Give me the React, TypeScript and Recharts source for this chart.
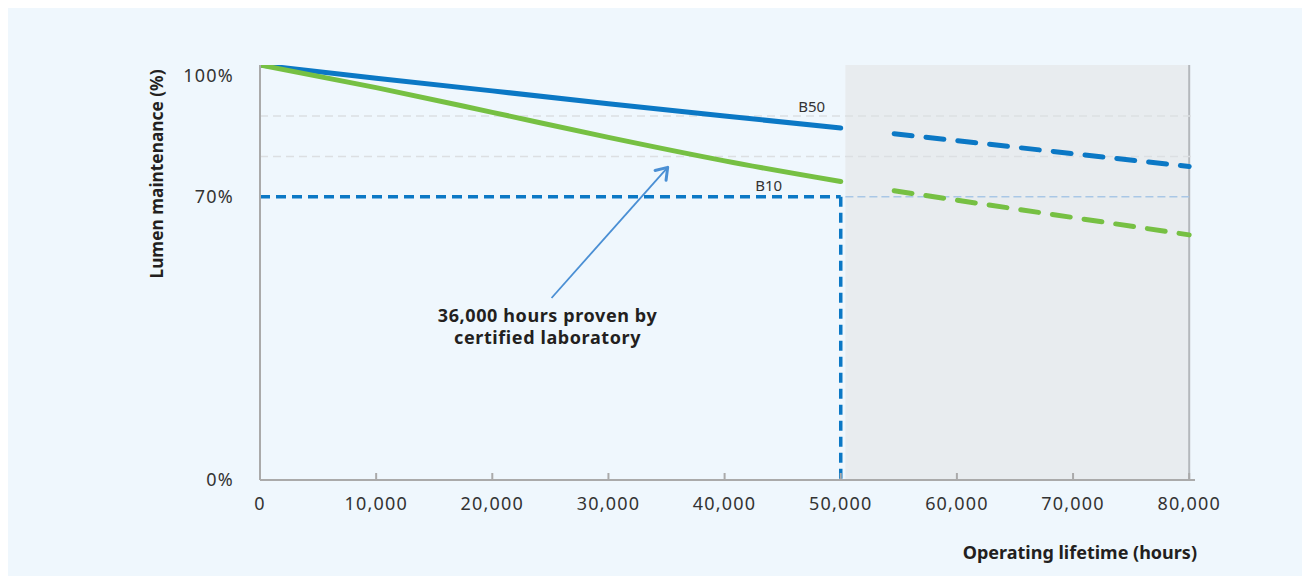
import {
  LineChart,
  Line,
  XAxis,
  YAxis,
  ReferenceArea,
  ReferenceLine,
  ReferenceDot,
  Label
} from "recharts";

// measured curves (lumen maintenance in %)
const hours = [0, 10000, 20000, 30000, 40000, 50000];
const b50 = [102.6, 99.3, 96.2, 93.0, 90.0, 87.0];
const b10 = [102.6, 97.0, 90.9, 84.7, 78.9, 73.8];

// extrapolated curves
const projHours = [54600, 80000];
const b50Proj = [85.6, 77.5];
const b10Proj = [71.5, 60.6];

const xTicks = [0, 10000, 20000, 30000, 40000, 50000, 60000, 70000, 80000];
const yTicks = [0, 70, 100];
const gridLevels = [80, 90];

const BLUE = "#0b78c5";
const GREEN = "#76c043";
const FONT = "'Noto Sans', sans-serif";

const measured = hours.map((h, i) => ({ h, b50: b50[i], b10: b10[i] }));
const projected = projHours.map((h, i) => ({ h, b50: b50Proj[i], b10: b10Proj[i] }));

function Arrow(props: any) {
  const { x1, y1, x2, y2 } = props;
  const a = Math.atan2(y2 - y1, x2 - x1);
  const len = 13;
  const spread = 0.6;
  const p1x = x2 - len * Math.cos(a - spread);
  const p1y = y2 - len * Math.sin(a - spread);
  const p2x = x2 - len * Math.cos(a + spread);
  const p2y = y2 - len * Math.sin(a + spread);
  const txt = {
    textAnchor: "middle" as const,
    fontFamily: FONT,
    fontWeight: 700,
    fontSize: 18,
    letterSpacing: 0.6,
    fill: "#231f20"
  };
  return (
    <g>
      <line x1={x1} y1={y1} x2={x2} y2={y2} stroke="#4a8fd4" strokeWidth={1.8} />
      <polyline
        points={`${p1x},${p1y} ${x2},${y2} ${p2x},${p2y}`}
        fill="none"
        stroke="#4a8fd4"
        strokeWidth={3}
        strokeLinecap="round"
        strokeLinejoin="round"
      />
      <text x={x1 - 4} y={y1 + 24} {...txt}>
        36,000 hours proven by
      </text>
      <text x={x1 - 4} y={y1 + 46} {...txt}>
        certified laboratory
      </text>
    </g>
  );
}

export default function App() {
  const tickStyle = { fontFamily: FONT, fontSize: 18, fill: "#333", letterSpacing: 1.2 };

  return (
    <div
      style={{
        position: "relative",
        width: 1310,
        height: 576,
        margin: "-8px 0 0 -8px",
        background: "#fff",
        overflow: "hidden"
      }}
    >
      <div
        style={{
          position: "absolute",
          left: 7,
          top: 6,
          width: 1301,
          height: 580,
          background: "#eff7fd"
        }}
      />
      <div style={{ position: "absolute", left: 0, top: 0 }}>
        <LineChart
          width={1310}
          height={576}
          margin={{ top: 65, right: 115, bottom: 66, left: 200 }}
        >
          <XAxis
            dataKey="h"
            type="number"
            domain={[0, 80500]}
            ticks={xTicks}
            tickFormatter={(v) => v.toLocaleString("en-US")}
            interval={0}
            tick={tickStyle}
            tickSize={-7}
            tickMargin={24}
            height={30}
            stroke="#aaa"
            strokeWidth={2}
            allowDataOverflow
          >
            <Label
              content={() => (
                <text
                  x={1197}
                  y={559}
                  textAnchor="end"
                  fontFamily={FONT}
                  fontWeight={700}
                  fontSize={18}
                  fill="#231f20"
                >
                  Operating lifetime (hours)
                </text>
              )}
            />
          </XAxis>
          <YAxis
            type="number"
            domain={[0, 102.6]}
            ticks={yTicks}
            tickFormatter={(v) => `${v}%`}
            interval={0}
            tick={tickStyle}
            tickLine={false}
            tickSize={0}
            tickMargin={26}
            width={60}
            stroke="#aaa"
            strokeWidth={2}
            allowDataOverflow
          >
            <Label
              content={() => (
                <text
                  x={163}
                  y={174}
                  transform="rotate(-90 163 174)"
                  textAnchor="middle"
                  fontFamily={FONT}
                  fontWeight={700}
                  fontSize={17.3}
                  fill="#231f20"
                >
                  Lumen maintenance (%)
                </text>
              )}
            />
          </YAxis>

          <ReferenceArea
            x1={50400}
            x2={80000}
            y1={0}
            y2={102.6}
            fill="#e8ecef"
            fillOpacity={1}
            stroke="none"
          />
          <ReferenceLine x={80000} stroke="#b4b8bc" strokeWidth={2} />

          {gridLevels.map((g) => (
            <ReferenceLine
              key={g}
              y={g}
              stroke="#dcdfe2"
              strokeWidth={1.5}
              strokeDasharray="8 5"
            />
          ))}

          <ReferenceLine
            segment={[{ x: 50400, y: 70 }, { x: 80000, y: 70 }]}
            stroke="#a9c7e6"
            strokeWidth={1.5}
            strokeDasharray="8 4"
          />
          <ReferenceLine
            segment={[{ x: 0, y: 70 }, { x: 50000, y: 70 }]}
            stroke={BLUE}
            strokeWidth={3.5}
            strokeDasharray="10 6"
          />
          <ReferenceLine
            segment={[{ x: 50000, y: 70 }, { x: 50000, y: 0 }]}
            stroke={BLUE}
            strokeWidth={3.5}
            strokeDasharray="10 6"
          />

          <Line
            data={measured}
            dataKey="b50"
            stroke={BLUE}
            strokeWidth={5}
            strokeLinecap="round"
            dot={false}
            activeDot={false}
            type="linear"
            isAnimationActive={false}
          />
          <Line
            data={measured}
            dataKey="b10"
            stroke={GREEN}
            strokeWidth={5}
            strokeLinecap="round"
            dot={false}
            activeDot={false}
            type="monotone"
            isAnimationActive={false}
          />
          <Line
            data={projected}
            dataKey="b50"
            stroke={BLUE}
            strokeWidth={5}
            strokeLinecap="round"
            strokeDasharray="18 14"
            dot={false}
            activeDot={false}
            type="linear"
            isAnimationActive={false}
          />
          <Line
            data={projected}
            dataKey="b10"
            stroke={GREEN}
            strokeWidth={5}
            strokeLinecap="round"
            strokeDasharray="18 14"
            dot={false}
            activeDot={false}
            type="linear"
            isAnimationActive={false}
          />

          <ReferenceDot
            x={47500}
            y={92.3}
            r={0}
            fill="none"
            stroke="none"
            label={{ value: "B50", position: "center", fontFamily: FONT, fontSize: 15, fill: "#333" }}
          />
          <ReferenceDot
            x={43800}
            y={72.8}
            r={0}
            fill="none"
            stroke="none"
            label={{ value: "B10", position: "center", fontFamily: FONT, fontSize: 15, fill: "#333" }}
          />

          <ReferenceLine
            segment={[{ x: 25100, y: 45 }, { x: 35100, y: 77.3 }]}
            shape={(p: any) => <Arrow {...p} />}
          />
        </LineChart>
      </div>
    </div>
  );
}
